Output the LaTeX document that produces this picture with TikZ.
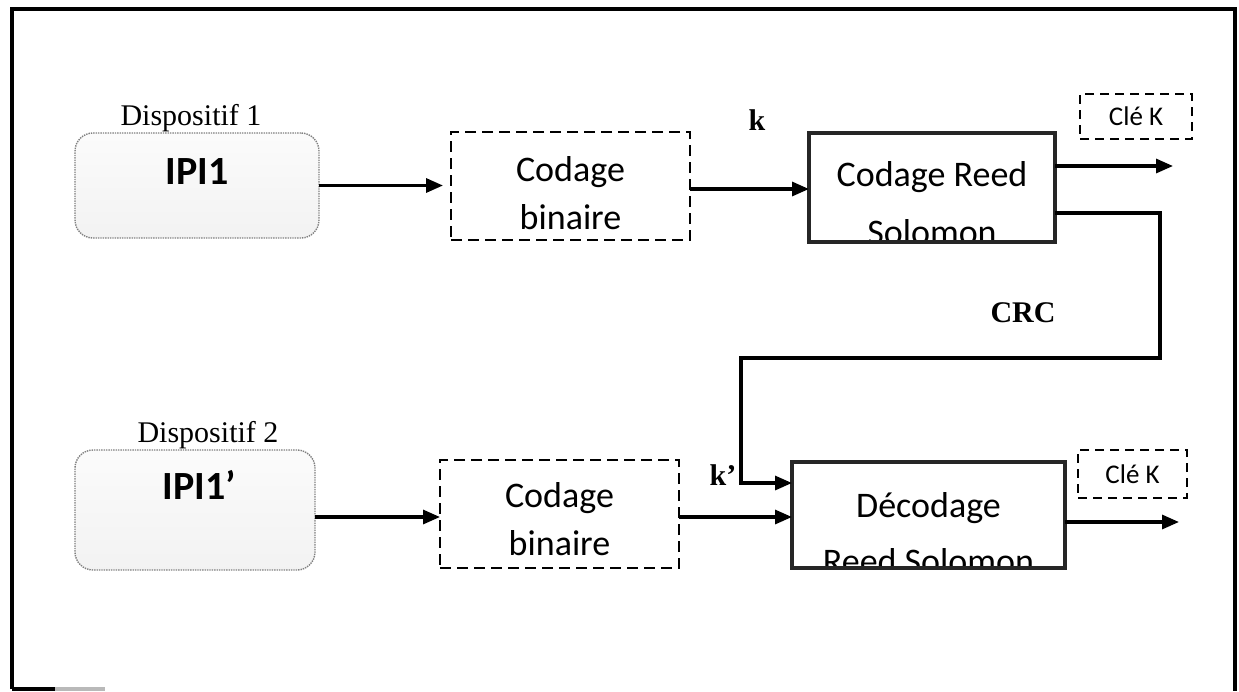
\documentclass[tikz,border=0pt]{standalone}
\usepackage{fontspec}
\setmainfont{Liberation Serif}
\newfontfamily\calfont{Carlito}
\usetikzlibrary{arrows.meta,calc}
\begin{document}
\begin{tikzpicture}[x=1pt,y=-1pt,
  every node/.style={inner sep=0pt, outer sep=0pt},
  dashbox/.style={draw, line width=2.8pt, dash pattern=on 11pt off 6pt},
  keybox/.style={draw, line width=2.5pt, dash pattern=on 9pt off 6pt},
  heavybox/.style={draw=black!85, line width=4.8pt},
  device/.style={draw=black!50, densely dotted, line width=1.4pt, rounded corners=18pt,
    top color=gray!3, bottom color=gray!10},
  wire/.style={line width=3.2pt},
  arr/.style={wire, -{Triangle[length=17pt,width=14pt]}},
  boxfont/.style={font=\calfont\fontsize{36}{43}\selectfont},
  keyfont/.style={font=\calfont\fontsize{27}{32}\selectfont},
  ipifont/.style={font=\calfont\bfseries\fontsize{40}{48}\selectfont},
  dispfont/.style={font=\fontsize{30}{36}\selectfont},
  lblfont/.style={font=\bfseries\fontsize{30}{36}\selectfont}
]
\useasboundingbox (0,0) rectangle (1239,691);

% outer frame
\draw[line width=3.5pt] (12,689) -- (12,9) -- (1235,9) -- (1235,691);
\draw[line width=3.5pt] (12,689) -- (55,689);
\draw[line width=3.5pt, gray!55] (55,689) -- (105,689);

% ---------- device 1 ----------
\node[dispfont, anchor=base] (d1) at (191,125) {Dispositif 1};
\node[device, minimum width=244pt, minimum height=105pt] (ipiA) at (197,185.5) {};
\node[ipifont] (ipiAt) at (197,172) {IPI1};

\node[dashbox, minimum width=239pt, minimum height=108pt] (cbA) at (570.5,186) {};
\node[boxfont, anchor=base] (cbAt1) at (570.5,181) {Codage};
\node[boxfont, anchor=base] (cbAt2) at (570.5,229) {binaire};

\node[heavybox, minimum width=246pt, minimum height=109pt,
  path picture={
    \node[boxfont, anchor=base] (crsAt1) at ([yshift=-53pt]path picture bounding box.north) {Codage Reed};
    \node[boxfont, anchor=base] (crsAt2) at ([yshift=-111pt]path picture bounding box.north) {Solomon};
  }] (crsA) at (932,187.5) {};

\node[keybox, keyfont, minimum width=112pt, minimum height=45pt] (keyA) at (1136,116.5) {Clé K};

\node[lblfont] (k) at (757,120) {k};

\draw[arr, shorten >=8pt] (ipiA.east) -- (ipiA.east -| cbA.west);
\coordinate (kA) at ($(cbA.east)+(0,3)$);
\draw[arr] (kA) -- (kA -| crsA.west);
\coordinate (outA) at (1173,166);
\draw[arr] (crsA.east |- outA) -- (outA);

% ---------- device 2 ----------
\node[dispfont, anchor=base] (d2) at (208,442) {Dispositif 2};
\node[device, minimum width=240pt, minimum height=120pt] (ipiB) at (195,510) {};
\node[ipifont] (ipiBt) at (199,485) {IPI1’};

\node[dashbox, minimum width=239pt, minimum height=108pt] (cbB) at (559.5,514) {};
\node[boxfont, anchor=base] (cbBt1) at (559.5,507) {Codage};
\node[boxfont, anchor=base] (cbBt2) at (559.5,555) {binaire};

\node[heavybox, minimum width=273pt, minimum height=106pt,
  path picture={
    \node[boxfont, anchor=base] (decBt1) at ([yshift=-55pt]path picture bounding box.north) {Décodage};
    \node[boxfont, anchor=base] (decBt2) at ([yshift=-111pt]path picture bounding box.north) {Reed Solomon};
  }] (decB) at (928.5,515) {};

\node[keybox, keyfont, minimum width=109pt, minimum height=48pt] (keyB) at (1132.5,474) {Clé K};

\node[lblfont] (kp) at (723,475) {k’};

\coordinate (pB) at ($(ipiB.east)+(0,7)$);
\draw[arr] (pB) -- (pB -| cbB.west);
\coordinate (kB) at ($(cbB.east)+(0,3)$);
\draw[arr] (kB) -- (kB -| decB.west);
\coordinate (outB) at (1179,522);
\draw[arr] (decB.east |- outB) -- (outB);

% ---------- CRC link ----------
\coordinate (crcA) at ($(crsA.south east)+(0,-29)$);
\coordinate (c1) at (1160,358);
\coordinate (c2) at (741,483);
\draw[arr, line join=miter] (crcA) -| (c1) -| (c2) -- (c2 -| decB.west);
\node[lblfont] (crc) at (1023,313) {CRC};
\end{tikzpicture}
\end{document}
